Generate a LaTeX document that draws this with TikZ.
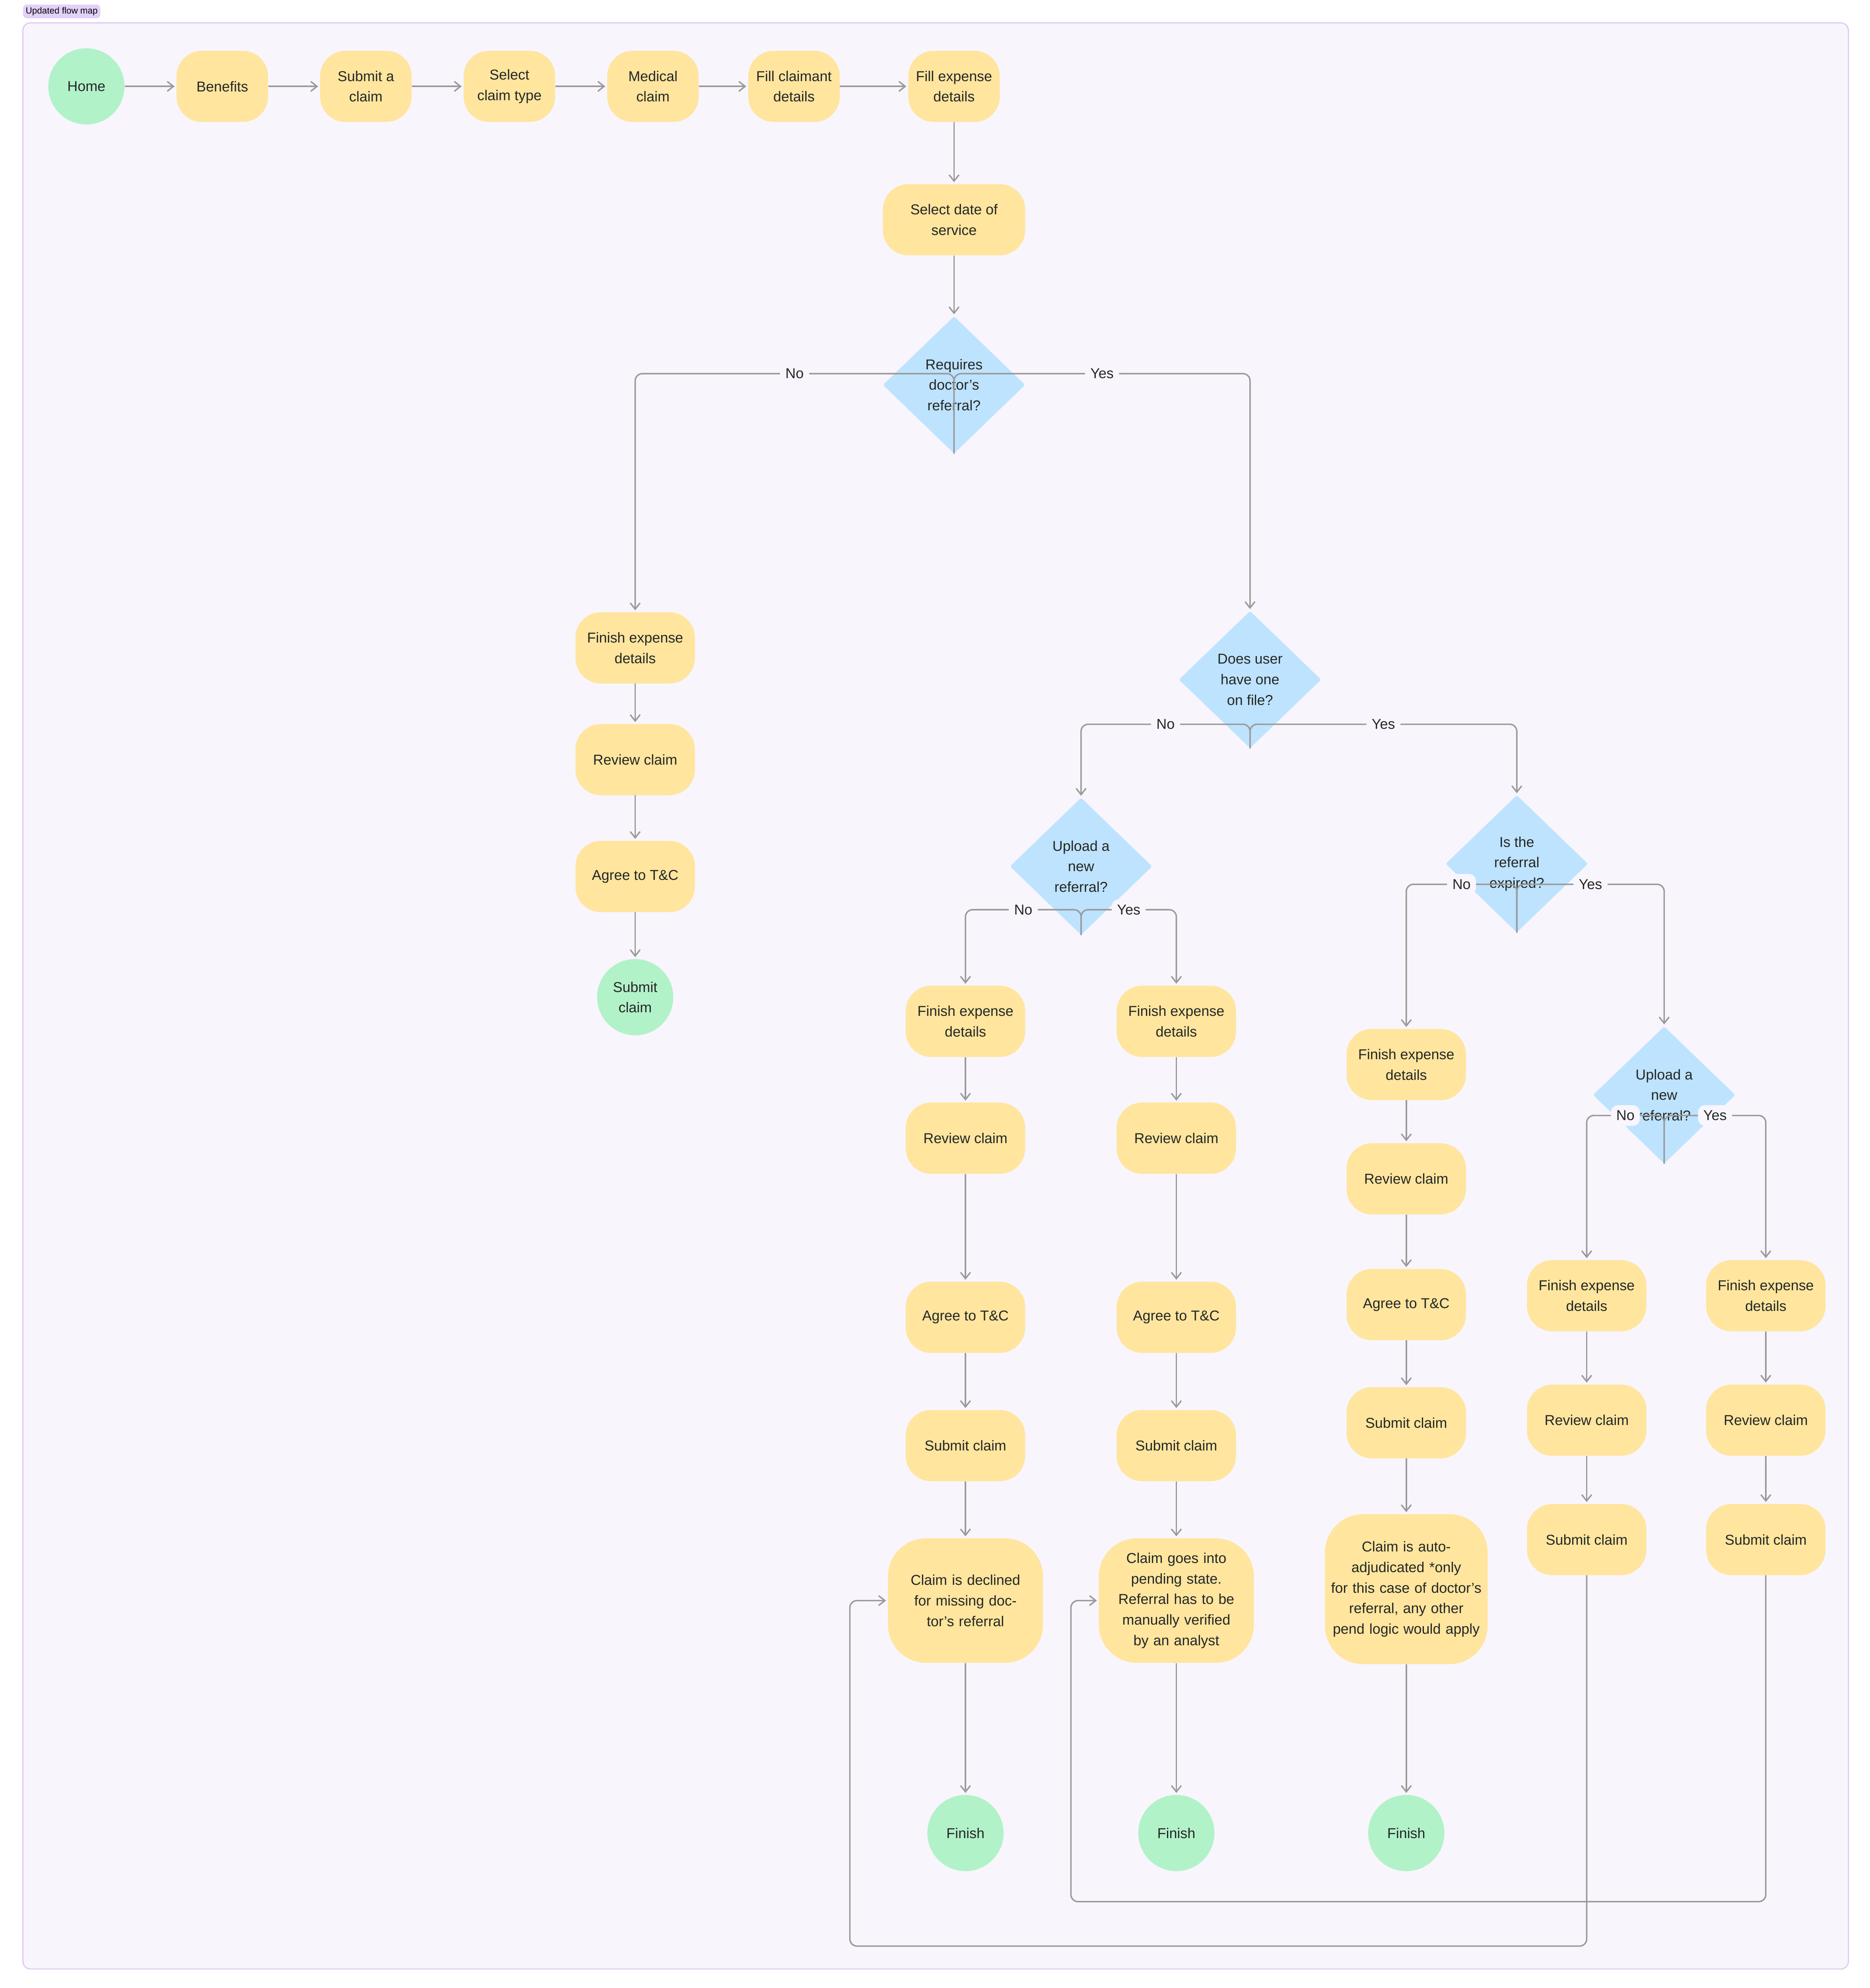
\documentclass[tikz,border=0pt]{standalone}
\usepackage{fontspec}
\setmainfont{Liberation Sans}
\usetikzlibrary{shapes.geometric,arrows.meta}
\definecolor{bg}{HTML}{F8F5FC}
\definecolor{frm}{HTML}{DCC8F2}
\definecolor{tag}{HTML}{E3D0F8}
\definecolor{yel}{HTML}{FFE59E}
\definecolor{grn}{HTML}{B2F2C9}
\definecolor{blu}{HTML}{BDE3FF}
\definecolor{ln}{HTML}{9A9A9A}
\tikzset{
 txt/.style={font=\fontsize{16}{23}\selectfont, text=black!85},
 box/.style={txt, rectangle, rounded corners=1cm, fill=yel, minimum width=4.7cm, minimum height=2.8cm, align=center, inner sep=2pt},
 tbox/.style={box, minimum width=3.6cm},
 bigbox/.style={box, rounded corners=1.5cm, minimum width=6.1cm, minimum height=4.9cm, text width=5.6cm},
 circ/.style={txt, circle, fill=grn, minimum size=3cm, align=center, inner sep=0pt},
 dia/.style={diamond, fill=blu, minimum width=5.6cm, minimum height=5.4cm, inner sep=0pt, rounded corners=2pt},
 dtxt/.style={txt, align=center},
 arr/.style={draw=ln, line width=1.6pt, -{Straight Barb[length=7pt,width=11pt]}, rounded corners=8, shorten >=2pt},
 lbl/.style={txt, fill=bg, inner sep=6pt},
}
\begin{document}
\begin{tikzpicture}[x=0.05cm,y=-0.05cm]
\useasboundingbox[fill=white] (0,0) rectangle (1472,1565);
\draw[fill=bg, draw=frm, line width=1.2pt, rounded corners=0.3cm] (18,18) rectangle (1455,1550);
\node[fill=tag, rounded corners=0.15cm, font=\fontsize{10}{12}\selectfont, inner sep=3pt, anchor=west] (tg) at (18,9) {Updated flow map};
% top row
\node[circ] (home) at (68,68) {Home};
\node[tbox] (ben) at (175,68) {Benefits};
\node[tbox] (sub) at (288,68) {Submit a\\claim};
\node[tbox] (sel) at (401,68) {Select\\claim type};
\node[tbox] (med) at (514,68) {Medical\\claim};
\node[tbox] (fcl) at (625,68) {Fill claimant\\details};
\node[tbox] (fex) at (751,68) {Fill expense\\details};
\node[box, minimum width=5.6cm] (date) at (751,173) {Select date of\\service};
\node[dia] (d1) at (751,303) {};
\node[dtxt] at (d1.center) {Requires\\doctor's\\referral?};
% left branch
\node[box] (a1) at (500,510) {Finish expense\\details};
\node[box] (a2) at (500,598) {Review claim};
\node[box] (a3) at (500,690) {Agree to T\&C};
\node[circ] (a4) at (500,785) {Submit\\claim};
% diamonds
\node[dia] (d2) at (984,535) {};
\node[dtxt] at (d2.center) {Does user\\have one\\on file?};
\node[dia] (d3) at (851,682) {};
\node[dtxt] at (d3.center) {Upload a\\new\\referral?};
\node[dia] (d4) at (1194,680) {};
\node[dtxt] at (d4.center) {Is the\\referral\\expired?};
\node[dia] (d5) at (1310,862) {};
\node[dtxt] at (d5.center) {Upload a\\new\\referral?};
% column b
\node[box] (b1) at (760,804) {Finish expense\\details};
\node[box] (b2) at (760,896) {Review claim};
\node[box] (b3) at (760,1037) {Agree to T\&C};
\node[box] (b4) at (760,1138) {Submit claim};
\node[bigbox] (b5) at (760,1260) {Claim is declined for missing doctor's referral};
\node[circ] (b6) at (760,1443) {Finish};
% column c
\node[box] (c1) at (926,804) {Finish expense\\details};
\node[box] (c2) at (926,896) {Review claim};
\node[box] (c3) at (926,1037) {Agree to T\&C};
\node[box] (c4) at (926,1138) {Submit claim};
\node[bigbox] (c5) at (926,1260) {Claim goes into pending state. Referral has to be manually verified by an analyst};
\node[circ] (c6) at (926,1443) {Finish};
% column e
\node[box] (e1) at (1107,838) {Finish expense\\details};
\node[box] (e2) at (1107,928) {Review claim};
\node[box] (e3) at (1107,1027) {Agree to T\&C};
\node[box] (e4) at (1107,1120) {Submit claim};
\node[bigbox, minimum width=6.4cm, minimum height=5.9cm, text width=6cm] (e5) at (1107,1251) {Claim is auto-adjudicated *only for this case of doctor's referral, any other pend logic would apply};
\node[circ] (e6) at (1107,1443) {Finish};
% columns f g
\node[box] (f1) at (1249,1020) {Finish expense\\details};
\node[box] (f2) at (1249,1118) {Review claim};
\node[box] (f3) at (1249,1212) {Submit claim};
\node[box] (g1) at (1390,1020) {Finish expense\\details};
\node[box] (g2) at (1390,1118) {Review claim};
\node[box] (g3) at (1390,1212) {Submit claim};
% arrows
\foreach \a/\b in {home/ben,ben/sub,sub/sel,sel/med,med/fcl,fcl/fex}
  \draw[arr] (\a.east) -- (\b.west);
\foreach \a/\b in {fex/date,date/d1,a1/a2,a2/a3,a3/a4,b1/b2,b2/b3,b3/b4,b4/b5,b5/b6,c1/c2,c2/c3,c3/c4,c4/c5,c5/c6,e1/e2,e2/e3,e3/e4,e4/e5,e5/e6,f1/f2,f2/f3,g1/g2,g2/g3}
  \draw[arr] (\a.south) -- (\b.north);
\draw[arr] (d1.south) -- ++(0,-63) -| node[lbl,pos=0.25]{No} (a1.north);
\draw[arr] (d1.south) -- ++(0,-63) -| node[lbl,pos=0.25]{Yes} (d2.north);
\draw[arr] (d2.south) -- ++(0,-19) -| node[lbl,pos=0.25]{No} (d3.north);
\draw[arr] (d2.south) -- ++(0,-19) -| node[lbl,pos=0.25]{Yes} (d4.north);
\draw[arr] (d3.south) -- ++(0,-20) -| node[lbl,pos=0.25]{No} (b1.north);
\draw[arr] (d3.south) -- ++(0,-20) -| node[lbl,pos=0.25]{Yes} (c1.north);
\draw[arr] (d4.south) -- ++(0,-38) -| node[lbl,pos=0.25]{No} (e1.north);
\draw[arr] (d4.south) -- ++(0,-38) -| node[lbl,pos=0.25]{Yes} (d5.north);
\draw[arr] (d5.south) -- ++(0,-38) -| node[lbl,pos=0.25]{No} (f1.north);
\draw[arr] (d5.south) -- ++(0,-38) -| node[lbl,pos=0.25]{Yes} (g1.north);
\coordinate (l1) at (669,1532);
\coordinate (l2) at (843,1497);
\draw[arr] (f3.south) |- (l1) |- (b5.west);
\draw[arr] (g3.south) |- (l2) |- (c5.west);
\end{tikzpicture}
\end{document}
